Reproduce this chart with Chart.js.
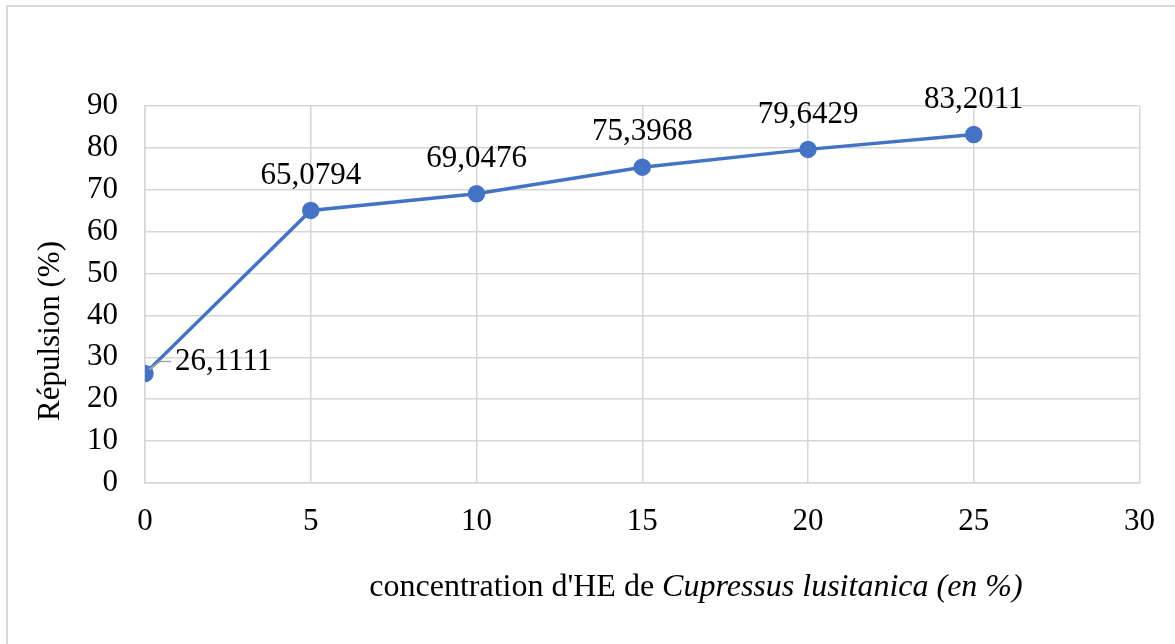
<!DOCTYPE html>
<html>
<head>
<meta charset="utf-8">
<script src="https://cdn.jsdelivr.net/npm/chart.js@4.4.1/dist/chart.umd.min.js"></script>
<style>
  html, body { margin: 0; padding: 0; background: #fff; }
  #wrap { width: 1175px; height: 644px; }
</style>
</head>
<body>
<div id="wrap"><canvas id="c"></canvas></div>
<script>
const concentrations = [0, 5, 10, 15, 20, 25];
const repulsion = [26.1111, 65.0794, 69.0476, 75.3968, 79.6429, 83.2011];
const pointLabels = ['26,1111', '65,0794', '69,0476', '75,3968', '79,6429', '83,2011'];
const yTitle = 'Répulsion (%)';
const xTitleNormal = "concentration d'HE de ";
const xTitleItalic = 'Cupressus lusitanica (en %)';

const FONT = '"Liberation Serif", "Times New Roman", serif';
const BLUE = '#4472C4';
const GRID = '#d6d6d6';

const decor = {
  id: 'decor',
  beforeDraw(chart) {
    const ctx = chart.ctx;
    ctx.save();
    ctx.fillStyle = '#fff';
    ctx.fillRect(0, 0, chart.width, chart.height);
    ctx.strokeStyle = '#d9d9d9';
    ctx.lineWidth = 2;
    ctx.strokeRect(7, 6, chart.width + 20, chart.height + 20);
    ctx.restore();
  },
  afterDraw(chart) {
    const ctx = chart.ctx;
    const meta = chart.getDatasetMeta(0);
    ctx.save();
    ctx.fillStyle = '#000';
    ctx.font = '31px ' + FONT;
    ctx.textBaseline = 'middle';
    meta.data.forEach((pt, i) => {
      if (i === 0) {
        ctx.strokeStyle = '#a6a6a6';
        ctx.lineWidth = 1.5;
        ctx.beginPath();
        ctx.moveTo(pt.x + 4, pt.y - 4);
        ctx.lineTo(pt.x + 15, pt.y - 12);
        ctx.lineTo(pt.x + 26, pt.y - 12);
        ctx.stroke();
        ctx.textAlign = 'left';
        ctx.fillText(pointLabels[i], pt.x + 30, pt.y - 12);
      } else {
        ctx.textAlign = 'center';
        ctx.fillText(pointLabels[i], pt.x, pt.y - 35);
      }
    });

    // y axis title
    ctx.save();
    ctx.translate(51, 331);
    ctx.rotate(-Math.PI / 2);
    ctx.textAlign = 'center';
    ctx.fillText(yTitle, 0, 0);
    ctx.restore();

    // x axis title, partly italic
    ctx.textAlign = 'left';
    ctx.font = '32px ' + FONT;
    const w1 = ctx.measureText(xTitleNormal).width;
    ctx.font = 'italic 32px ' + FONT;
    const w2 = ctx.measureText(xTitleItalic).width;
    const x0 = 696 - (w1 + w2) / 2;
    ctx.font = '32px ' + FONT;
    ctx.fillText(xTitleNormal, x0, 588);
    ctx.font = 'italic 32px ' + FONT;
    ctx.fillText(xTitleItalic, x0 + w1, 588);
    ctx.restore();
  }
};

new Chart(document.getElementById('c'), {
  type: 'scatter',
  data: {
    datasets: [{
      data: concentrations.map((x, i) => ({ x: x, y: repulsion[i] })),
      showLine: true,
      borderColor: BLUE,
      backgroundColor: BLUE,
      borderWidth: 3.5,
      pointRadius: 7,
      pointHoverRadius: 7,
      tension: 0
    }]
  },
  options: {
    responsive: true,
    maintainAspectRatio: false,
    animation: false,
    layout: { padding: { top: 106, right: 35, bottom: 0, left: 0 } },
    plugins: { legend: { display: false }, tooltip: { enabled: false } },
    scales: {
      x: {
        type: 'linear',
        min: 0, max: 30,
        afterFit: s => { s.height = 161; },
        grid: { color: GRID, lineWidth: 1.5, drawTicks: false },
        border: { color: GRID, width: 1.5 },
        ticks: { stepSize: 5, padding: 20, color: '#000', font: { family: FONT, size: 31 } }
      },
      y: {
        min: 0, max: 90,
        afterFit: s => { s.width = 145; },
        grid: { color: GRID, lineWidth: 1.5, drawTicks: false },
        border: { color: GRID, width: 1.5 },
        ticks: { stepSize: 10, padding: 27, color: '#000', font: { family: FONT, size: 31 } }
      }
    }
  },
  plugins: [decor]
});
</script>
</body>
</html>
